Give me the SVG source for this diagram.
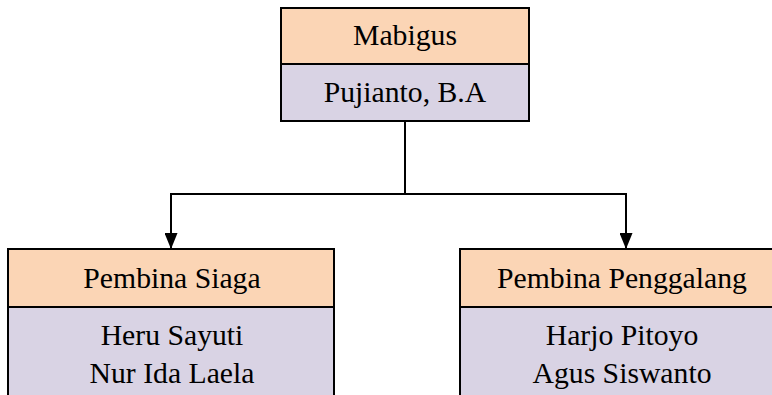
<svg xmlns="http://www.w3.org/2000/svg" width="772" height="395" viewBox="0 0 772 395">
  <defs>
    <style>
      .head { fill: #FBD5B5; stroke: #000; stroke-width: 2; }
      .body { fill: #D9D3E4; stroke: #000; stroke-width: 2; }
      .t { font-family: "Liberation Serif", "Times New Roman", serif; font-size: 29.7px; fill: #000; text-anchor: middle; }
      .conn { fill: none; stroke: #000; stroke-width: 2; }
    </style>
    <marker id="arrow" markerWidth="16" markerHeight="13" refX="16" refY="6.5" orient="auto" markerUnits="userSpaceOnUse" viewBox="0 0 16 13">
      <path d="M0,0 L16,6.5 L0,13 Z" fill="#000"/>
    </marker>
  </defs>
  <rect width="772" height="395" fill="#fff"/>
  <g id="connectors">
    <line class="conn" x1="405" y1="121" x2="405" y2="194"/>
    <polyline class="conn" points="405,194 171,194 171,249" marker-end="url(#arrow)"/>
    <polyline class="conn" points="405,194 626,194 626,249" marker-end="url(#arrow)"/>
  </g>
  <g id="mabigus">
    <rect class="head" x="281" y="8" width="248" height="56"/>
    <rect class="body" x="281" y="64" width="248" height="57"/>
    <text class="t" x="405" y="45">Mabigus</text>
    <text class="t" x="405" y="102">Pujianto, B.A</text>
  </g>
  <g id="pembina-siaga">
    <rect class="head" x="8" y="249" width="326" height="58"/>
    <rect class="body" x="8" y="307" width="326" height="100"/>
    <text class="t" x="172" y="288">Pembina Siaga</text>
    <text class="t" x="172" y="345">Heru Sayuti</text>
    <text class="t" x="172" y="383">Nur Ida Laela</text>
  </g>
  <g id="pembina-penggalang">
    <rect class="head" x="460" y="249" width="330" height="58"/>
    <rect class="body" x="460" y="307" width="330" height="100"/>
    <text class="t" x="622" y="288">Pembina Penggalang</text>
    <text class="t" x="622" y="345">Harjo Pitoyo</text>
    <text class="t" x="622" y="383">Agus Siswanto</text>
  </g>
</svg>
